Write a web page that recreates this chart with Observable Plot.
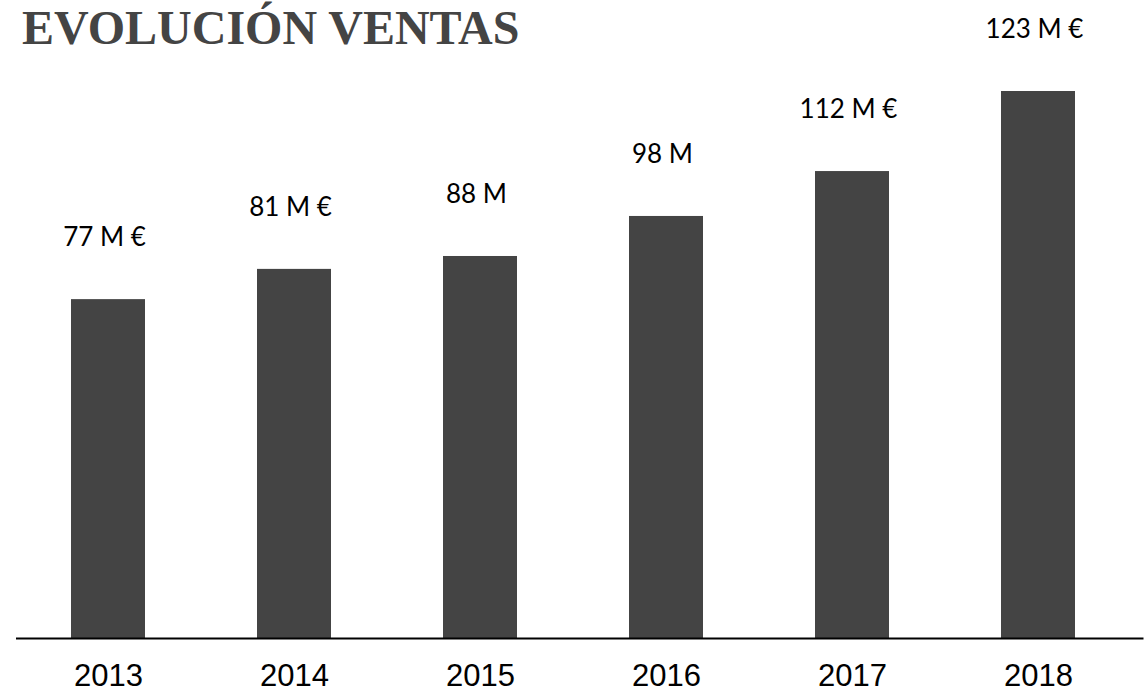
<!DOCTYPE html>
<html>
<head>
<meta charset="utf-8">
<script src="https://cdn.jsdelivr.net/npm/d3@7"></script>
<script src="https://cdn.jsdelivr.net/npm/@observablehq/plot@0.6"></script>
<style>
  html, body { margin: 0; padding: 0; background: #fff; }
  #wrap { position: relative; width: 1146px; height: 693px; }
  #title {
    position: absolute; left: 22px; top: 4px; margin: 0;
    font-family: "Liberation Serif", "DejaVu Serif", serif;
    font-weight: bold; font-size: 48px; color: #444; line-height: 1;
    white-space: nowrap;
  }
</style>
</head>
<body>
<div id="wrap">
  <div id="chart"></div>
  <h1 id="title">EVOLUCIÓN VENTAS</h1>
</div>
<script>
const years = ["2013", "2014", "2015", "2016", "2017", "2018"];
const sales = [76.2, 83.0, 85.9, 94.9, 105.0, 123];
const labels = ["77 M €", "81 M €", "88 M", "98 M", "112 M €", "123 M €"];

const data = years.map((y, i) => ({year: y, value: sales[i], label: labels[i]}));

const chart = Plot.plot({
  width: 1146,
  height: 693,
  marginTop: 91,
  marginBottom: 55,
  marginLeft: 15,
  marginRight: 14.5,
  style: {background: "#fff", color: "black"},
  x: {domain: years, paddingInner: 0.6, paddingOuter: 0.3, label: null},
  y: {domain: [0, 123], axis: null},
  marks: [
    Plot.barY(data, {x: "year", y: "value", fill: "#444444"}),
    Plot.ruleY([0], {stroke: "black", strokeWidth: 2.2, insetLeft: 1, insetRight: -12}),
    Plot.text(data, {
      x: "year", y: "value", text: "label", dy: -62, dx: -4, lineAnchor: "middle",
      fontSize: 26, fontFamily: "Lato, 'Noto Sans', sans-serif", fill: "black"
    }),
    Plot.axisX({
      tickSize: 0, tickPadding: 0, dy: 0, lineAnchor: "middle", fontSize: 31,
      fontFamily: "'Liberation Sans', Arial, sans-serif", fill: "black", label: null,
      textAnchor: "middle"
    })
  ]
});
chart.querySelectorAll('[aria-label="x-axis tick label"] text').forEach(t => {
  t.setAttribute("dy", "0");
});
const axisG = chart.querySelector('[aria-label="x-axis tick label"]');
if (axisG) {
  const tr = axisG.getAttribute("transform") || "";
  axisG.setAttribute("transform", tr + " translate(0,38)");
}
document.getElementById("chart").appendChild(chart);
</script>
</body>
</html>
